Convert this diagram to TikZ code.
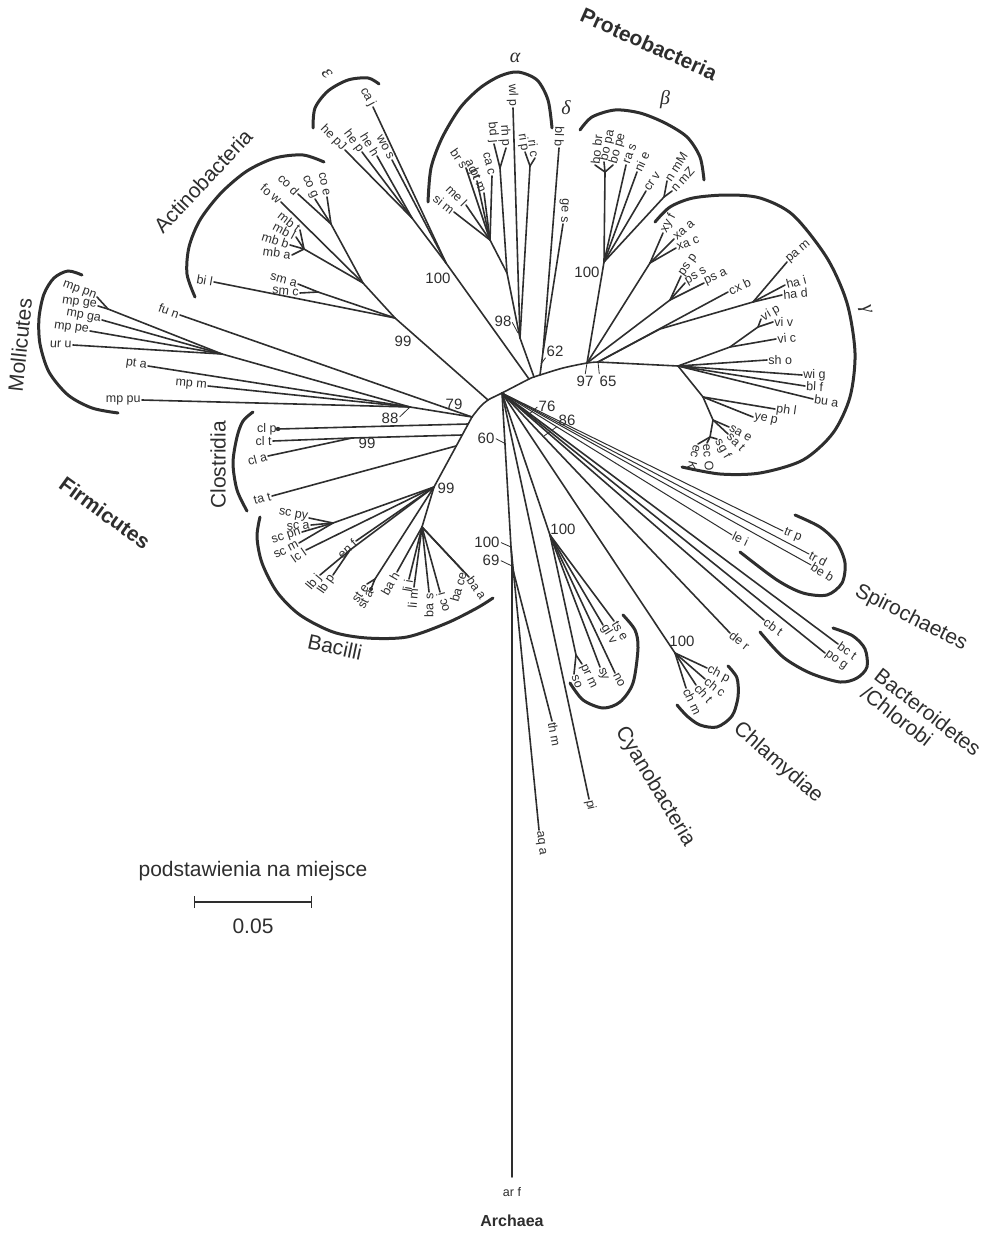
\documentclass[tikz,border=0pt]{standalone}
\usepackage{fontspec}
\setmainfont{Liberation Sans}
\newfontfamily\greekfont{Liberation Serif}
\usetikzlibrary{arrows.meta,positioning}
\definecolor{ink}{HTML}{2E2E2E}
\tikzset{
  leaf style/.style={font=\fontsize{12.5}{12.5}\selectfont, text=ink, inner sep=1.2pt},
  leaf left/.style={leaf style, anchor=east},
  leaf right/.style={leaf style, anchor=west},
  branch style/.style={draw=ink, line width=1.6pt, line cap=round, line join=round},
  thin style/.style={draw=ink, line width=1pt, line cap=round},
  clade style/.style={draw=ink, line width=3pt, line cap=round},
  boot style/.style={font=\fontsize{15}{15}\selectfont, text=ink, inner sep=0pt},
  tick style/.style={draw=ink, line width=0.8pt, shorten <=1.5pt},
  taxon style/.style={font=\fontsize{21}{21}\selectfont, text=ink, inner sep=0pt},
  phylum style/.style={font=\fontsize{21}{21}\selectfont\bfseries, text=ink, inner sep=0pt},
  greek style/.style={font=\fontsize{20}{20}\selectfont\greekfont\itshape, text=ink, inner sep=0pt}
}
\begin{document}
\begin{tikzpicture}[x=1pt, y=-1pt]
\useasboundingbox (0,0) rectangle (997,1236);

% backbone
\coordinate (bF) at (472,417);
\coordinate (bK) at (480,407);
\coordinate (bA) at (488,400);
\coordinate (bR) at (502,393);
\coordinate (bE) at (529,379);
\coordinate (bAl) at (534,377);
\coordinate (bD) at (540,375);
\coordinate (bM) at (563,368);
\coordinate (b97) at (587,363);
\coordinate (b65) at (598,362);
\coordinate (gMain) at (678,366);
\draw[branch style] plot[smooth] coordinates {(bF) (bK) (bA) (bR) (bE) (bAl) (bD) (bM) (b97) (b65)};
\draw[branch style] (b65) -- (gMain);

% Mollicutes, Fusobacteria
\coordinate (mG) at (108,309);
\coordinate (m1) at (222,354);
\coordinate (m88) at (410,407);
\node[leaf left, rotate=-20] (mpPn) at (97,297) {mp pn};
\node[leaf left, rotate=-8] (mpGe) at (98,306) {mp ge};
\node[leaf left, rotate=-10] (mpGa) at (102,320) {mp ga};
\node[leaf left, rotate=-8] (mpPe) at (90,331) {mp pe};
\node[leaf left, rotate=-3] (urU) at (73,345) {ur u};
\node[leaf left, rotate=-8] (ptA) at (148,366) {pt a};
\node[leaf left, rotate=-5] (mpM) at (208,386) {mp m};
\node[leaf left] (mpPu) at (142,400) {mp pu};
\node[leaf left, rotate=-20] (fuN) at (180,315) {fu n};
\draw[branch style] (mpPn.east) -- (mG);
\draw[branch style] (mpGe.east) -- (mG) -- (m1);
\draw[branch style] (mpGa.east) -- (m1);
\draw[branch style] (mpPe.east) -- (m1);
\draw[branch style] (urU.east) -- (m1) -- (m88);
\draw[branch style] (ptA.east) -- (m88);
\draw[branch style] (mpM.east) -- (m88);
\draw[branch style] (mpPu.east) -- (m88) -- (bF);
\draw[branch style] (fuN.east) -- (bF);

% Actinobacteria
\coordinate (aR) at (395,318);
\coordinate (aT) at (363,283);
\coordinate (aCo) at (331,224);
\coordinate (aMb) at (304,249);
\coordinate (aSm) at (318,292);
\node[leaf left, rotate=-10] (biL) at (214,282) {bi l};
\node[leaf left, rotate=-15] (smA) at (298,284) {sm a};
\node[leaf left, rotate=-5] (smC) at (300,293) {sm c};
\node[leaf left, rotate=-38] (mbT) at (300,230) {mb t};
\node[leaf left, rotate=-28] (mbL) at (296,237) {mb l};
\node[leaf left, rotate=-18] (mbB) at (290,245) {mb b};
\node[leaf left, rotate=-8] (mbA) at (292,255) {mb a};
\node[leaf left, rotate=-40] (foW) at (281,202) {fo w};
\node[leaf left, rotate=-45] (coD) at (298,194) {co d};
\node[leaf left, rotate=-65] (coG) at (315,199) {co g};
\node[leaf left, rotate=-78] (coE) at (327,197) {co e};
\draw[branch style] (mbT.east) -- (aMb);
\draw[branch style] (mbL.east) -- (aMb);
\draw[branch style] (mbB.east) -- (aMb);
\draw[branch style] (mbA.east) -- (aMb) -- (aT);
\draw[branch style] (coD.east) -- (aCo);
\draw[branch style] (coG.east) -- (aCo);
\draw[branch style] (coE.east) -- (aCo) -- (aT);
\draw[branch style] (foW.east) -- (aT) -- (aR);
\draw[branch style] (smA.east) -- (aSm);
\draw[branch style] (smC.east) -- (aSm) -- (aR);
\draw[branch style] (biL.east) -- (aR) -- (bA);

% epsilon
\coordinate (eHe) at (412,218);
\coordinate (eRoot) at (446,263);
\node[leaf left, rotate=-45] (hePJ) at (345,150) {he pJ};
\node[leaf left, rotate=-52] (heP) at (362,152) {he p};
\node[leaf left, rotate=-58] (heH) at (377,156) {he h};
\node[leaf left, rotate=-62] (woS) at (392,160) {wo s};
\node[leaf left, rotate=-62] (caJ) at (373,107) {ca j};
\draw[branch style] (hePJ.east) -- (eHe);
\draw[branch style] (heP.east) -- (eHe);
\draw[branch style] (heH.east) -- (eHe) -- (eRoot);
\draw[branch style] (woS.east) -- (eRoot);
\draw[branch style] (caJ.east) -- (eRoot) -- (bE);

% alpha
\coordinate (alB) at (500,168);
\coordinate (alRi) at (530,166);
\coordinate (al3) at (490,240);
\coordinate (al2) at (507,273);
\coordinate (alRoot) at (520,338);
\node[leaf left, rotate=-88] (wlP) at (513,108) {wl p};
\node[leaf left, rotate=-84] (bdJ) at (494,144) {bd j};
\node[leaf left, rotate=-86] (rhP) at (506,148) {rh p};
\node[leaf left, rotate=-80] (riP) at (525,152) {ri p};
\node[leaf left, rotate=-82] (riC) at (535,158) {ri c};
\node[leaf left, rotate=-76] (caC) at (492,176) {ca c};
\node[leaf left, rotate=-65] (agT) at (477,181) {ag t};
\node[leaf left, rotate=-68] (brM) at (484,193) {br m};
\node[leaf left, rotate=-55] (brS) at (466,168) {br s};
\node[leaf left, rotate=-45] (meL) at (466,205) {me l};
\node[leaf left, rotate=-38] (siM) at (454,212) {si m};
\draw[branch style] (bdJ.east) -- (alB);
\draw[branch style] (rhP.east) -- (alB) -- (al2);
\draw[branch style] (riP.east) -- (alRi);
\draw[branch style] (riC.east) -- (alRi) -- (alRoot);
\draw[branch style] (caC.east) -- (al3);
\draw[branch style] (agT.east) -- (al3);
\draw[branch style] (brM.east) -- (al3);
\draw[branch style] (brS.east) -- (al3);
\draw[branch style] (meL.east) -- (al3);
\draw[branch style] (siM.east) -- (al3) -- (al2) -- (alRoot);
\draw[branch style] (wlP.east) -- (alRoot) -- (bAl);

% delta
\coordinate (dRoot) at (543,352);
\node[leaf left, rotate=-92] (blB) at (559,148) {bl b};
\node[leaf left, rotate=-93] (geS) at (563,224) {ge s};
\draw[branch style] (blB.east) -- (dRoot);
\draw[branch style] (geS.east) -- (dRoot) -- (bD);

% beta
\coordinate (btRoot) at (604,262);
\coordinate (btBo) at (605,172);
\coordinate (btN) at (664,197);
\node[leaf right, rotate=84] (boBr) at (595,165) {bo br};
\node[leaf right, rotate=78] (boPa) at (604,162) {bo pa};
\node[leaf right, rotate=74] (boPe) at (613,165) {bo pe};
\node[leaf right, rotate=70] (raS) at (626,165) {ra s};
\node[leaf right, rotate=65] (niE) at (637,172) {ni e};
\node[leaf right, rotate=55] (crV) at (646,191) {cr v};
\node[leaf right, rotate=57] (nmM) at (667,181) {n mM};
\node[leaf right, rotate=48] (nmZ) at (672,191) {n mZ};
\draw[branch style] (boBr.west) -- (btBo);
\draw[branch style] (boPa.west) -- (btBo);
\draw[branch style] (boPe.west) -- (btBo) -- (btRoot);
\draw[branch style] (raS.west) -- (btRoot);
\draw[branch style] (niE.west) -- (btRoot);
\draw[branch style] (crV.west) -- (btRoot);
\draw[branch style] (nmM.west) -- (btN);
\draw[branch style] (nmZ.west) -- (btN) -- (btRoot) -- (b97);

% gamma
\coordinate (gXy) at (650,263);
\coordinate (gPs) at (670,300);
\coordinate (gQ) at (660,329);
\coordinate (gPa) at (753,302);
\coordinate (gVi) at (730,347);
\coordinate (gVv) at (758,327);
\coordinate (g1) at (703,397);
\coordinate (g2) at (713,420);
\coordinate (g3) at (710,437);
\node[leaf right, rotate=62] (xyF) at (663,233) {xy f};
\node[leaf right, rotate=40] (xaA) at (674,239) {xa a};
\node[leaf right, rotate=20] (xaC) at (676,248) {xa c};
\node[leaf right, rotate=55] (psP) at (681,276) {ps p};
\node[leaf right, rotate=30] (psS) at (685,283) {ps s};
\node[leaf right, rotate=25] (psA) at (704,283) {ps a};
\node[leaf right, rotate=25] (cxB) at (728,292) {cx b};
\node[leaf right, rotate=40] (paM) at (787,262) {pa m};
\node[leaf right, rotate=15] (haI) at (785,285) {ha i};
\node[leaf right, rotate=5] (haD) at (782,295) {ha d};
\node[leaf right, rotate=30] (viP) at (761,319) {vi p};
\node[leaf right] (viV) at (773,322) {vi v};
\node[leaf right, rotate=5] (viC) at (776,339) {vi c};
\node[leaf right] (shO) at (767,360) {sh o};
\node[leaf right] (wiG) at (802,375) {wi g};
\node[leaf right, rotate=-3] (blF) at (805,386) {bl f};
\node[leaf right, rotate=-8] (buA) at (813,399) {bu a};
\node[leaf right, rotate=-8] (phL) at (775,409) {ph l};
\node[leaf right, rotate=-12] (yeP) at (753,417) {ye p};
\node[leaf right, rotate=-30] (saE) at (729,427) {sa e};
\node[leaf right, rotate=-45] (saT) at (728,434) {sa t};
\node[leaf right, rotate=-60] (sgF) at (717,439) {sg f};
\node[leaf right, rotate=-85] (ecO) at (707,443) {ec O};
\node[leaf right, rotate=-105] (ecK) at (698,444) {ec K};
\draw[branch style] (xyF.west) -- (gXy);
\draw[branch style] (xaA.west) -- (gXy);
\draw[branch style] (xaC.west) -- (gXy) -- (b97);
\draw[branch style] (psP.west) -- (gPs);
\draw[branch style] (psS.west) -- (gPs);
\draw[branch style] (psA.west) -- (gPs) -- (b97);
\draw[branch style] (cxB.west) -- (b65);
\draw[branch style] (paM.west) -- (gPa);
\draw[branch style] (haI.west) -- (gPa);
\draw[branch style] (haD.west) -- (gPa) -- (gQ) -- (b65);
\draw[branch style] (viP.west) -- (gVv);
\draw[branch style] (viV.west) -- (gVv) -- (gVi);
\draw[branch style] (viC.west) -- (gVi) -- (gMain);
\draw[branch style] (shO.west) -- (gMain);
\draw[branch style] (wiG.west) -- (gMain);
\draw[branch style] (blF.west) -- (gMain);
\draw[branch style] (buA.west) -- (gMain);
\draw[branch style] (phL.west) -- (g1);
\draw[branch style] (yeP.west) -- (g1) -- (gMain);
\draw[branch style] (saE.west) -- (g2);
\draw[branch style] (saT.west) -- (g2) -- (g1);
\draw[branch style] (sgF.west) -- (g3);
\draw[branch style] (ecO.west) -- (g3);
\draw[branch style] (ecK.west) -- (g3) -- (g2);

% Clostridia, Bacilli
\coordinate (fS1) at (468,424);
\coordinate (fS2) at (462,435);
\coordinate (fS3) at (456,446);
\coordinate (fB99) at (434,487);
\coordinate (cRoot) at (352,438);
\coordinate (sSc) at (333,523);
\coordinate (sLb) at (350,550);
\coordinate (sSt) at (375,579);
\coordinate (sBa) at (422,527);
\draw[branch style] (bF) -- (fB99);
\node[leaf left] (clP) at (278,429) {cl p};
\node[leaf left] (clT) at (273,441) {cl t};
\node[leaf left, rotate=15] (clA) at (268,456) {cl a};
\node[leaf left, rotate=15] (taT) at (272,496) {ta t};
\draw[branch style] (clP.east) -- (fS1);
\fill[ink] (clP.east) circle (2.2pt);
\draw[branch style] (clT.east) -- (cRoot);
\draw[branch style] (clA.east) -- (cRoot) -- (fS2);
\draw[branch style] (taT.east) -- (fS3);
\node[leaf left, rotate=-10] (scPy) at (309,518) {sc py};
\node[leaf left, rotate=5] (scA) at (311,525) {sc a};
\node[leaf left, rotate=18] (scPn) at (302,532) {sc pn};
\node[leaf left, rotate=28] (scM) at (299,543) {sc m};
\node[leaf left, rotate=35] (lcL) at (306,550) {lc l};
\node[leaf left, rotate=42] (enF) at (356,541) {en f};
\node[leaf left, rotate=50] (lbJ) at (320,575) {lb j};
\node[leaf left, rotate=55] (lbP) at (333,575) {lb p};
\node[leaf left, rotate=55] (stE) at (367,584) {st e};
\node[leaf left, rotate=62] (stA) at (371,589) {st a};
\node[leaf left, rotate=60] (baH) at (397,572) {ba h};
\node[leaf left, rotate=80] (liI) at (409,579) {li i};
\node[leaf left, rotate=85] (liM) at (414,587) {li m};
\node[leaf left, rotate=90] (baS) at (429,592) {ba s};
\node[leaf left, rotate=105] (ocI) at (440,592) {oc i};
\node[leaf left, rotate=74] (baCe) at (463,571) {ba ce};
\node[leaf right, rotate=-55] (baA) at (469,577) {ba a};
\draw[branch style] (scPy.east) -- (sSc);
\draw[branch style] (scA.east) -- (sSc);
\draw[branch style] (scPn.east) -- (sSc);
\draw[branch style] (scM.east) -- (sSc) -- (fB99);
\draw[branch style] (lcL.east) -- (fB99);
\draw[branch style] (enF.east) -- (fB99);
\draw[branch style] (lbJ.east) -- (sLb);
\draw[branch style] (lbP.east) -- (sLb) -- (fB99);
\draw[branch style] (stE.east) -- (sSt);
\draw[branch style] (stA.east) -- (sSt) -- (fB99);
\fill[ink] (stA.east) circle (2pt);
\draw[branch style] (baH.east) -- (sBa);
\draw[branch style] (liI.east) -- (sBa);
\draw[branch style] (liM.east) -- (sBa);
\draw[branch style] (baS.east) -- (sBa);
\draw[branch style] (ocI.east) -- (sBa);
\draw[branch style] (baCe.east) -- (sBa);
\draw[branch style] (baA.west) -- (sBa) -- (fB99);

% lineages from the root node
\coordinate (rCy) at (550,535);
\coordinate (rPr) at (576,655);
\coordinate (rCh) at (675,653);
\coordinate (rA1) at (511,547);
\coordinate (rA2) at (512,566);
\node[leaf right, rotate=-22] (trP) at (783,531) {tr p};
\node[leaf right, rotate=-28] (trD) at (809,554) {tr d};
\node[leaf right, rotate=-32] (beB) at (811,565) {be b};
\node[leaf right, rotate=-25] (leI) at (732,535) {le i};
\node[leaf right, rotate=-35] (cbT) at (764,620) {cb t};
\node[leaf right, rotate=-35] (bcT) at (838,644) {bc t};
\node[leaf right, rotate=-35] (poG) at (825,653) {po g};
\node[leaf right, rotate=-38] (deR) at (730,633) {de r};
\node[leaf right, rotate=-28] (chP) at (707,668) {ch p};
\node[leaf right, rotate=-38] (chC) at (705,679) {ch c};
\node[leaf right, rotate=-48] (chT) at (696,685) {ch t};
\node[leaf right, rotate=-65] (chM) at (686,688) {ch m};
\node[leaf right, rotate=-58] (tsE) at (614,621) {ts e};
\node[leaf right, rotate=-58] (glV) at (603,625) {gl v};
\node[leaf right, rotate=-70] (syX) at (600,667) {sy};
\node[leaf right, rotate=-62] (noX) at (615,673) {no};
\node[leaf right, rotate=-65] (prM) at (582,664) {pr m};
\node[leaf right, rotate=-70] (soX) at (574,674) {so};
\node[leaf right, rotate=-80] (thM) at (552,721) {th m};
\node[leaf right, rotate=-78] (piX) at (589,799) {pi};
\node[leaf right, rotate=-83] (aqA) at (539,830) {aq a};
\coordinate (arF) at (512,1177);
\node[leaf style, below=9pt of arF] (arFl) {ar f};
\draw[thin style] (trP.west) -- (bR);
\draw[thin style] (trD.west) -- (bR);
\draw[thin style] (beB.west) -- (bR);
\draw[thin style] (leI.west) -- (bR);
\draw[branch style] (cbT.west) -- (bR);
\draw[branch style] (bcT.west) -- (bR);
\draw[branch style] (poG.west) -- (bR);
\draw[branch style] (deR.west) -- (bR);
\draw[branch style] (chP.west) -- (rCh);
\draw[branch style] (chC.west) -- (rCh);
\draw[branch style] (chT.west) -- (rCh);
\draw[branch style] (chM.west) -- (rCh) -- (bR);
\draw[branch style] (tsE.west) -- (rCy);
\draw[branch style] (glV.west) -- (rCy);
\draw[branch style] (syX.west) -- (rCy);
\draw[branch style] (noX.west) -- (rCy);
\draw[branch style] (prM.west) -- (rPr);
\draw[branch style] (soX.west) -- (rPr) -- (rCy) -- (bR);
\draw[branch style] (piX.west) -- (bR);
\draw[branch style] (aqA.west) -- (rA1);
\draw[branch style] (thM.west) -- (rA2);
\draw[branch style] (arF) -- (rA2) -- (rA1) -- (bR);

% support values
\node[boot style] (bs100e) at (438,278) {100};
\node[boot style] (bs99a) at (403,341) {99};
\node[boot style] (bs98) at (503,321) {98};
\node[boot style] (bs62) at (555,351) {62};
\node[boot style] (bs97) at (585,381) {97};
\node[boot style] (bs65) at (608,381) {65};
\node[boot style] (bs100b) at (587,272) {100};
\node[boot style] (bs79) at (454,404) {79};
\node[boot style] (bs88) at (390,418) {88};
\node[boot style] (bs99c) at (367,443) {99};
\node[boot style] (bs99b) at (446,488) {99};
\node[boot style] (bs60) at (486,438) {60};
\node[boot style] (bs76) at (547,406) {76};
\node[boot style] (bs86) at (567,420) {86};
\node[boot style] (bs100c) at (563,529) {100};
\node[boot style] (bs100a) at (487,542) {100};
\node[boot style] (bs69) at (491,560) {69};
\node[boot style] (bs100h) at (682,641) {100};
\coordinate (k98) at (518,333);
\coordinate (k62) at (541,364);
\coordinate (k60) at (506,444);
\coordinate (k76) at (527,416);
\coordinate (k86) at (544,436);
\draw[tick style] (bs98.east) -- (k98);
\draw[tick style] (bs62.south west) -- (k62);
\draw[tick style] (bs97.north) -- (b97);
\draw[tick style] (bs65.north west) -- (b65);
\draw[tick style] (bs88.east) -- (m88);
\draw[tick style] (bs60.east) -- (k60);
\draw[tick style] (bs76.west) -- (k76);
\draw[tick style] (bs86.south west) -- (k86);
\draw[tick style] (bs100a.east) -- (rA1);
\draw[tick style] (bs69.east) -- (rA2);

% clade brackets
\draw[clade style] plot[smooth] coordinates {(313,128) (315,108) (328,91) (348,80) (368,78) (379,84)};
\draw[clade style] plot[smooth] coordinates {(195,297) (187,274) (189,247) (200,220) (221,193) (247,171) (275,158) (303,155) (324,162)};
\draw[clade style] plot[smooth] coordinates {(428,202) (431,168) (442,138) (460,108) (480,88) (500,76) (518,72) (537,80) (548,100) (552,128)};
\draw[clade style] plot[smooth] coordinates {(580,130) (592,117) (615,110) (640,113) (665,123) (687,137) (700,157) (704,180)};
\draw[clade style] plot[smooth] coordinates {(655,222) (670,207) (693,198) (727,195) (760,198) (793,215) (827,258) (847,303) (855,353) (850,397) (833,433) (803,460) (760,473) (720,474) (682,467)};
\draw[clade style] plot[smooth] coordinates {(82,275) (68,271) (54,278) (44,294) (39,318) (40,344) (49,372) (68,395) (92,408) (118,413)};
\draw[clade style] plot[smooth] coordinates {(253,412) (243,421) (237,437) (233,463) (237,490) (247,511)};
\draw[clade style] plot[smooth] coordinates {(260,517) (257,537) (262,563) (277,592) (300,615) (333,632) (367,638) (407,637) (447,623) (477,608) (493,598)};
\draw[clade style] plot[smooth] coordinates {(623,615) (635,630) (638,648) (633,683) (620,702) (603,708) (583,700) (570,683)};
\draw[clade style] plot[smooth] coordinates {(728,666) (737,678) (738,697) (732,716) (717,727) (700,725) (687,716) (677,705)};
\draw[clade style] plot[smooth] coordinates {(795,515) (820,527) (837,543) (845,563) (842,583) (827,595) (803,593) (777,580) (740,552)};
\draw[clade style] plot[smooth] coordinates {(833,628) (853,636) (865,649) (867,667) (857,678) (840,682) (810,673) (783,657) (760,632)};

% group names
\node[taxon style, rotate=47] (actLab) at (203,181) {Actinobacteria};
\node[taxon style, rotate=84] (molLab) at (20,345) {Mollicutes};
\node[taxon style, rotate=90] (cloLab) at (218,465) {Clostridia};
\node[taxon style, rotate=-12] (bacLab) at (335,647) {Bacilli};
\node[phylum style, rotate=-36] (firLab) at (105,513) {Firmicutes};
\node[phylum style, rotate=-24] (proLab) at (649,44) {Proteobacteria};
\node[taxon style, rotate=-27] (spiLab) at (911,618) {Spirochaetes};
\node[taxon style, rotate=-38] (bctLab) at (928,712) {Bacteroidetes};
\node[taxon style, rotate=-38] (chbLab) at (897,716) {/Chlorobi};
\node[taxon style, rotate=-59] (cyaLab) at (655,787) {Cyanobacteria};
\node[taxon style, rotate=-41] (chlLab) at (778,763) {Chlamydiae};
\node[phylum style, font=\fontsize{16}{16}\selectfont\bfseries, below=17pt of arFl] (arcLab) {Archaea};
\node[greek style] (alLab) at (515,58) {α};
\node[greek style] (deLab) at (566,108) {δ};
\node[greek style] (beLab) at (665,100) {β};
\node[greek style, rotate=-50] (epLab) at (327,74) {ε};
\node[greek style, rotate=-75] (gaLab) at (865,310) {γ};

% scale bar
\coordinate (sbL) at (194,902);
\coordinate (sbR) at (312,902);
\coordinate (sbM) at (253,902);
\draw[draw=ink, line width=1.3pt, {Bar[width=12pt]}-{Bar[width=12pt]}] (sbL) -- (sbR);
\node[taxon style, above=21pt of sbM] (sbText) {podstawienia na miejsce};
\node[taxon style, below=17pt of sbM] (sbVal) {0.05};

\end{tikzpicture}
\end{document}
